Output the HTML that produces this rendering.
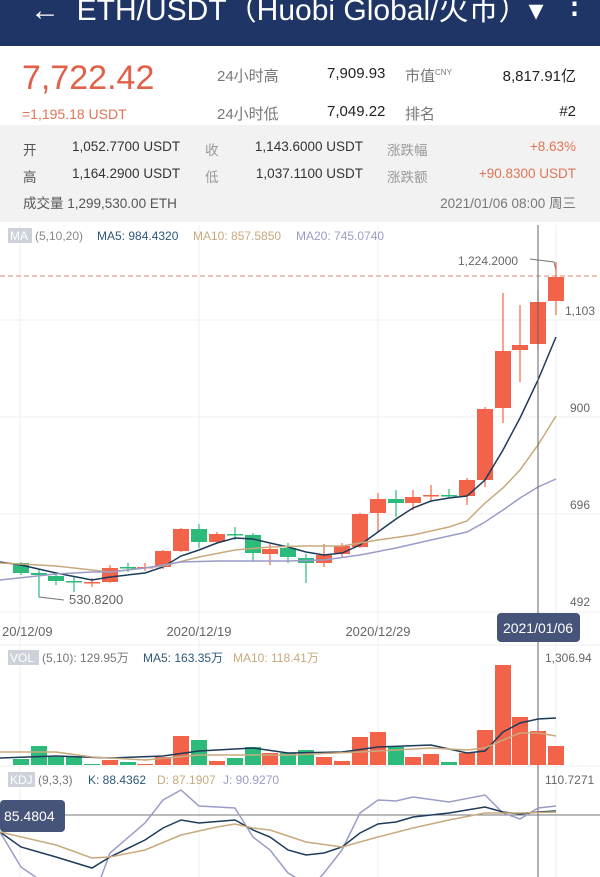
<!DOCTYPE html>
<html><head><meta charset="utf-8"><style>
body{margin:0;width:600px;height:877px;overflow:hidden;background:#fff;font-family:"Liberation Sans","Noto Sans CJK SC",sans-serif;position:relative}
.a{position:absolute;white-space:nowrap}
</style></head><body>
<div class="a" style="left:0;top:0;width:600px;height:46px;background:#1f3566"></div>
<div class="a" style="left:30px;top:-15px;color:#fff;font-size:30px">←&nbsp; ETH/USDT（Huobi Global/火币）▾</div>
<div class="a" style="left:560px;top:-14px;color:#fff;font-size:29px;font-weight:bold">⋮</div>

<div class="a" style="left:22px;top:59px;color:#e0604a;font-size:34px">7,722.42</div>
<div class="a" style="left:22px;top:106px;color:#e07555;font-size:14px">=1,195.18 USDT</div>
<div class="a" style="left:217px;top:65px;color:#777;font-size:15px">24小时高</div>
<div class="a" style="left:217px;top:103px;color:#777;font-size:15px">24小时低</div>
<div class="a" style="left:327px;top:65px;color:#222;font-size:15px">7,909.93</div>
<div class="a" style="left:327px;top:103px;color:#222;font-size:15px">7,049.22</div>
<div class="a" style="left:405px;top:65px;color:#777;font-size:15px">市值<sup style="font-size:8px">CNY</sup></div>
<div class="a" style="left:405px;top:103px;color:#777;font-size:15px">排名</div>
<div class="a" style="right:24px;top:65px;color:#222;font-size:15px">8,817.91亿</div>
<div class="a" style="right:24px;top:103px;color:#222;font-size:15px">#2</div>

<div class="a" style="left:0;top:125px;width:600px;height:97px;background:#f2f2f2"></div>
<div class="a" style="left:23px;top:139px;color:#555;font-size:13.5px">开</div>
<div class="a" style="left:23px;top:166px;color:#555;font-size:13.5px">高</div>
<div class="a" style="left:23px;top:192px;color:#555;font-size:13.5px">成交量 1,299,530.00 ETH</div>
<div class="a" style="left:72px;top:139px;color:#333;font-size:13.5px">1,052.7700 USDT</div>
<div class="a" style="left:72px;top:166px;color:#333;font-size:13.5px">1,164.2900 USDT</div>
<div class="a" style="left:205px;top:139px;color:#999;font-size:13.5px">收</div>
<div class="a" style="left:205px;top:166px;color:#999;font-size:13.5px">低</div>
<div class="a" style="right:237px;top:139px;color:#333;font-size:13.5px">1,143.6000 USDT</div>
<div class="a" style="right:237px;top:166px;color:#333;font-size:13.5px">1,037.1100 USDT</div>
<div class="a" style="left:387px;top:139px;color:#999;font-size:13.5px">涨跌幅</div>
<div class="a" style="left:387px;top:166px;color:#999;font-size:13.5px">涨跌额</div>
<div class="a" style="right:24px;top:139px;color:#e07555;font-size:13.5px">+8.63%</div>
<div class="a" style="right:24px;top:166px;color:#e07555;font-size:13.5px">+90.8300 USDT</div>
<div class="a" style="right:24px;top:192px;color:#777;font-size:13.5px">2021/01/06 08:00 周三</div>

<svg class="a" style="left:0;top:0" width="600" height="877" font-family="Liberation Sans, Noto Sans CJK SC, sans-serif">
<g stroke="#efefef" stroke-width="1">
<line x1="20" y1="225" x2="20" y2="877"/><line x1="199" y1="225" x2="199" y2="877"/><line x1="378" y1="225" x2="378" y2="877"/><line x1="556" y1="225" x2="556" y2="877"/>
<line x1="0" y1="320" x2="600" y2="320"/><line x1="0" y1="417" x2="600" y2="417"/><line x1="0" y1="514" x2="600" y2="514"/><line x1="0" y1="612" x2="600" y2="612"/>
<line x1="0" y1="645" x2="600" y2="645"/><line x1="0" y1="766" x2="600" y2="766"/>
</g>
<rect x="8" y="228" width="24" height="15" fill="#cdd2da"/><text x="10" y="240" font-size="12" fill="#fff">MA</text>
<text x="35" y="240" font-size="12" fill="#888">(5,10,20)</text>
<text x="97" y="240" font-size="12" fill="#2e5878">MA5: 984.4320</text>
<text x="193" y="240" font-size="12" fill="#c8a97e">MA10: 857.5850</text>
<text x="296" y="240" font-size="12" fill="#9a9cc8">MA20: 745.0740</text>
<line x1="0" y1="276" x2="600" y2="276" stroke="#e08a70" stroke-dasharray="5,3" stroke-width="1"/>
<text x="458" y="265" font-size="12" fill="#666">1,224.2000</text>
<polyline points="530,259 554,262 556,270" fill="none" stroke="#777"/>
<text x="565" y="315" font-size="12" fill="#666">1,103</text>
<text x="570" y="412" font-size="12" fill="#666">900</text>
<text x="570" y="509" font-size="12" fill="#666">696</text>
<text x="570" y="606" font-size="12" fill="#666">492</text>
<text x="69" y="604" font-size="13" fill="#666">530.8200</text>
<polyline points="39,588 39,597 64,600" fill="none" stroke="#777"/>
<g id="c"></g>
<g fill="none" stroke-width="1.5">
<polyline stroke="#1d3b5a" points="0,562 21,565 56,573 92,580 110,577 145,573 163,567 181,556 199,550 217,543 235,538 253,539 270,543 288,547 306,552 324,555 342,553 360,545 378,532 396,519 413,508 431,501 449,498 467,496 485,480 503,450 520,418 538,380 556,337"/>
<polyline stroke="#c8a97e" points="0,563 21,564 56,566 92,570 110,572 145,568 163,566 199,557 235,550 270,547 306,546 342,546 360,543 378,540 413,535 449,527 467,521 485,503 503,488 520,470 538,445 556,416"/>
<polyline stroke="#9a9cc8" points="0,580 56,574 92,572 110,572 145,568 181,562 217,561 253,561 288,561 324,560 360,555 396,548 431,540 467,532 485,522 503,510 520,498 538,487 556,479"/>
</g>
<text x="2" y="636" font-size="13" fill="#666">20/12/09</text>
<text x="199" y="636" font-size="13" fill="#666" text-anchor="middle">2020/12/19</text>
<text x="378" y="636" font-size="13" fill="#666" text-anchor="middle">2020/12/29</text>
<line x1="538" y1="225" x2="538" y2="877" stroke="#666" stroke-width="1"/>
<rect x="497" y="613" width="83" height="29" rx="4" fill="#455478"/>
<text x="538" y="633" font-size="14" fill="#fff" text-anchor="middle">2021/01/06</text>

<rect x="8" y="650" width="31" height="15" fill="#cdd2da"/><text x="10" y="662" font-size="12" fill="#fff">VOL</text>
<text x="42" y="662" font-size="12" fill="#777">(5,10): 129.95万</text>
<text x="143" y="662" font-size="12" fill="#2e5878">MA5: 163.35万</text>
<text x="233" y="662" font-size="12" fill="#c8a97e">MA10: 118.41万</text>
<text x="545" y="662" font-size="12" fill="#666">1,306.94</text>
<g id="v"></g>
<g fill="none" stroke-width="1.5">
<polyline stroke="#1d3b5a" points="0,758 56,756 110,758 163,756 199,751 253,748 288,753 342,752 378,747 431,745 467,753 485,751 503,732 520,723 538,719 556,718"/>
<polyline stroke="#c8a97e" points="0,752 56,752 92,757 145,760 199,755 288,755 360,752 431,748 467,750 485,748 503,740 520,733 538,733 556,736"/>
</g>

<rect x="8" y="772" width="27" height="15" fill="#cdd2da"/><text x="10" y="784" font-size="12" fill="#fff">KDJ</text>
<text x="38" y="784" font-size="12" fill="#777">(9,3,3)</text>
<text x="88" y="784" font-size="12" fill="#2e5878">K: 88.4362</text>
<text x="157" y="784" font-size="12" fill="#c8a97e">D: 87.1907</text>
<text x="223" y="784" font-size="12" fill="#9a9cc8">J: 90.9270</text>
<text x="545" y="784" font-size="12" fill="#666">110.7271</text>
<line x1="0" y1="815" x2="600" y2="815" stroke="#777"/>
<g fill="none" stroke-width="1.5">
<polyline stroke="#9a9cc8" points="0,832 21,867 40,880 100,880 110,853 145,823 163,800 181,790 199,806 217,807 235,808 253,837 270,850 288,873 300,880 318,880 324,873 342,850 360,813 378,800 396,801 413,797 449,802 485,795 503,813 520,819 538,808 556,806"/>
<polyline stroke="#1d3b5a" points="0,832 21,847 56,857 92,868 110,857 145,840 163,828 181,820 199,823 235,820 253,830 270,837 288,850 306,855 324,853 342,847 360,833 378,824 396,822 413,817 449,813 485,807 503,812 520,814 538,812 556,811"/>
<polyline stroke="#c8a97e" points="0,832 56,845 92,858 110,857 145,850 181,835 217,827 235,824 253,828 270,830 306,842 342,847 378,837 413,828 449,820 485,813 520,813 556,812"/>
</g>
<rect x="0" y="800" width="65" height="32" rx="4" fill="#455478"/>
<text x="4" y="821" font-size="14" fill="#fff">85.4804</text>
</svg>
<script>
var R="#f2634a",G="#2dbb7c";
var C=[[21,563,573,562,575,G],[39,573,575,570,597,G],[56,576,581,572,585,G],[74,581,582,577,592,G],[92,582,583,578,587,R],[110,568,582,565,583,R],[128,567,568,563,572,G],[145,567,568,563,571,R],[163,551,567,550,569,R],[181,529,551,528,552,R],[199,529,542,524,548,G],[217,534,542,532,543,R],[235,534,535,527,540,G],[253,535,553,533,562,G],[270,549,554,544,565,R],[288,548,557,543,563,G],[306,558,563,554,583,G],[324,555,563,544,567,R],[342,546,554,543,557,R],[360,514,547,513,548,R],[378,499,513,493,532,R],[396,499,503,490,517,G],[413,497,503,490,510,R],[431,495,496,485,502,R],[449,495,496,489,498,G],[467,480,496,478,505,R],[485,409,480,407,487,R],[503,351,408,293,423,R],[520,345,350,305,382,R],[538,302,344,290,350,R],[556,277,301,262,315,R]];
var s='';C.forEach(function(c){s+='<line x1="'+c[0]+'" x2="'+c[0]+'" y1="'+c[3]+'" y2="'+c[4]+'" stroke="'+c[5]+'" stroke-width="1.2"/><rect x="'+(c[0]-8)+'" y="'+c[1]+'" width="16" height="'+Math.max(1.5,c[2]-c[1])+'" fill="'+c[5]+'"/>';});
document.getElementById('c').innerHTML=s;
var V=[[21,759,G],[39,746,G],[56,757,G],[74,756,G],[92,764,G],[110,760,R],[128,762,G],[145,764,R],[163,757,R],[181,736,R],[199,740,G],[217,761,R],[235,758,G],[253,747,G],[270,753,R],[288,753,G],[306,750,G],[324,757,R],[342,761,R],[360,737,R],[378,732,R],[396,747,G],[413,757,R],[431,754,R],[449,762,G],[467,753,R],[485,730,R],[503,665,R],[520,717,R],[538,731,R],[556,746,R]];
s='';V.forEach(function(v){s+='<rect x="'+(v[0]-8)+'" y="'+v[1]+'" width="16" height="'+(765-v[1])+'" fill="'+v[2]+'"/>';});
document.getElementById('v').innerHTML=s;
</script>
</body></html>
